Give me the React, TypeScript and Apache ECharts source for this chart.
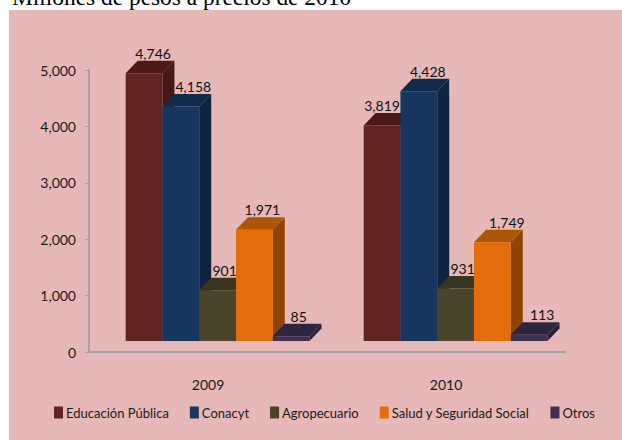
import React, { useEffect, useRef } from "react";
import * as echarts from "echarts";

const categories = ["2009", "2010"];
const seriesNames = ["Educación Pública", "Conacyt", "Agropecuario", "Salud y Seguridad Social", "Otros"];
const educacion = [4746, 3819];
const conacyt = [4158, 4428];
const agropecuario = [901, 931];
const salud = [1971, 1749];
const otros = [85, 113];
const seriesValues = [educacion, conacyt, agropecuario, salud, otros];

const FONT = 'Lato, "Liberation Sans", sans-serif';
const FONT_SIZE = 14;
const palette = [
  { front: "#632523", side: "#471916", top: "#4b1a18" },
  { front: "#17375e", side: "#0f243e", top: "#122b4b" },
  { front: "#4a452a", side: "#35311d", top: "#3a3520" },
  { front: "#e46c0a", side: "#8f4405", top: "#ad5507" },
  { front: "#3f3151", side: "#2b2138", top: "#2e2640" },
];

const BAR_FRACTION = 0.1545;
const DEPTH_X = 12;
const DEPTH_Y = 12.5;
const FLOOR_Y = 11;
const GROUP_SHIFT = 9.6;
// label nudges relative to the bar's front centre, [series][category]
const labelShiftX = [[9, 0], [12.5, 9], [7, 7], [8, 14.5], [7.5, 13]];
const labelLiftY = 7.5;

export default function App() {
  const ref = useRef<HTMLDivElement>(null);
  useEffect(() => {
    const chart = echarts.init(ref.current!, undefined, { renderer: "svg" });
    chart.setOption({
      animation: false,
      backgroundColor: "#ffffff",
      title: {
        text: "Millones de pesos a precios de 2010",
        left: 12,
        top: -15,
        padding: 0,
        textStyle: { fontFamily: '"Liberation Serif", serif', fontSize: 23.4, fontWeight: "normal", color: "#000000" },
      },
      graphic: [
        { type: "rect", z: -10, silent: true, shape: { x: 9, y: 10, width: 613, height: 430 }, style: { fill: "#e6b8b7" } },
      ],
      grid: { left: 89, right: 57, top: 70, bottom: 88, containLabel: false },
      legend: {
        left: 54,
        top: 406,
        width: 565,
        padding: 0,
        icon: "rect",
        itemWidth: 9,
        itemHeight: 12,
        itemGap: 21,
        textStyle: { fontFamily: FONT, fontSize: 13, color: "#1a1a1a", padding: [0, 0, 0, -2] },
        data: seriesNames,
      },
      xAxis: {
        type: "category",
        data: categories,
        axisLine: { lineStyle: { color: "#a3a3a3", width: 2 } },
        axisTick: { length: 6, lineStyle: { color: "#a3a3a3", width: 1 } },
        axisLabel: { fontFamily: FONT, fontSize: FONT_SIZE, color: "#1a1a1a", margin: 25 },
      },
      yAxis: {
        type: "value",
        min: 0,
        max: 5000,
        interval: 1000,
        splitLine: { show: false },
        axisLine: { show: true, lineStyle: { color: "#a3a3a3", width: 2 } },
        axisTick: { show: true, length: 4, lineStyle: { color: "#a3a3a3", width: 1 } },
        axisLabel: {
          fontFamily: FONT,
          fontSize: FONT_SIZE,
          color: "#1a1a1a",
          margin: 13,
          padding: [3, 0, 0, 0],
          formatter: (v: number) => v.toLocaleString("en-US"),
        },
      },
      series: seriesNames.map((name, si) => ({
        name,
        type: "custom",
        clip: false,
        itemStyle: { color: palette[si].front },
        encode: { x: 0, y: 1 },
        data: seriesValues[si].map((v, ci) => [ci, v]),
        renderItem: (_params: any, api: any) => {
          const ci = api.value(0);
          const val = api.value(1);
          const top = api.coord([ci, val]);
          const base = api.coord([ci, 0]);
          const w = api.size([1, 0])[0] * BAR_FRACTION;
          const x0 = top[0] + GROUP_SHIFT + (si - 2.5) * w;
          const x1 = x0 + w;
          const yT = top[1] - FLOOR_Y;
          const yB = base[1] - FLOOR_Y;
          const c = palette[si];
          const poly = (points: number[][], fill: string) => ({ type: "polygon", shape: { points }, style: { fill } });
          return {
            type: "group",
            children: [
              poly([[x1, yT], [x1 + DEPTH_X, yT - DEPTH_Y], [x1 + DEPTH_X, yB - DEPTH_Y], [x1, yB]], c.side),
              poly([[x0, yT], [x0 + DEPTH_X, yT - DEPTH_Y], [x1 + DEPTH_X, yT - DEPTH_Y], [x1, yT]], c.top),
              { type: "rect", shape: { x: x0, y: yT, width: w, height: yB - yT }, style: { fill: c.front } },
              {
                type: "text",
                z2: 50,
                style: {
                  text: val.toLocaleString("en-US"),
                  x: (x0 + x1) / 2 + labelShiftX[si][ci],
                  y: yT - DEPTH_Y - labelLiftY,
                  textAlign: "center",
                  textVerticalAlign: "middle",
                  font: `${FONT_SIZE}px ${FONT}`,
                  fill: "#111111",
                },
              },
            ],
          };
        },
      })),
    });
    return () => chart.dispose();
  }, []);
  return <div ref={ref} style={{ position: "absolute", left: 0, top: 0, width: 622, height: 440 }} />;
}
